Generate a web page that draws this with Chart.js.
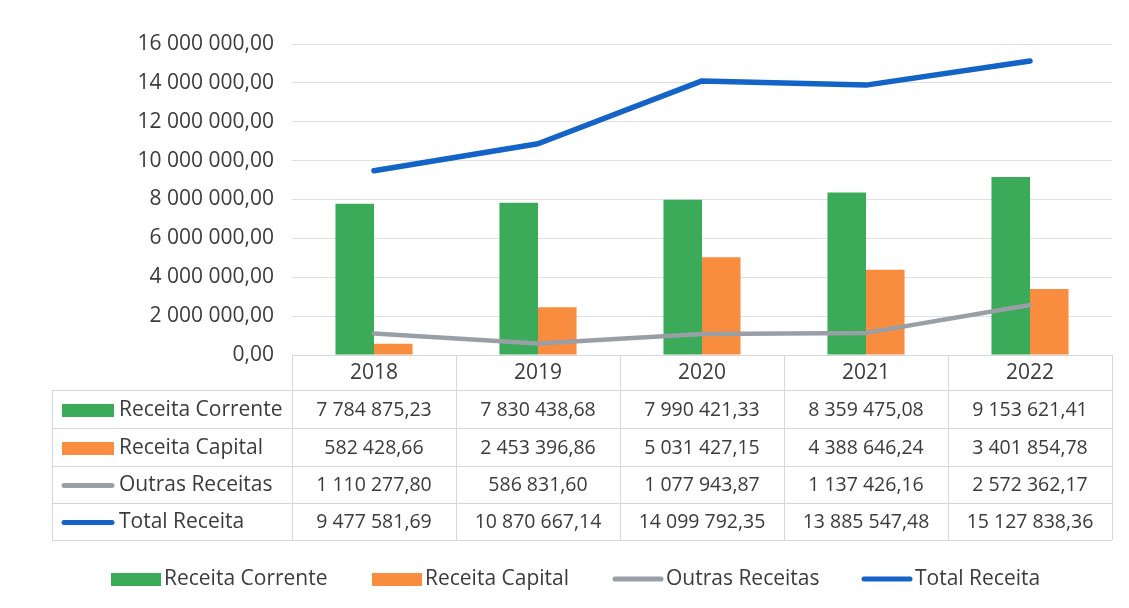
<!DOCTYPE html>
<html>
<head>
<meta charset="utf-8">
<script src="https://cdn.jsdelivr.net/npm/chart.js@4.4.1/dist/chart.umd.min.js"></script>
<style>
  html, body { margin: 0; padding: 0; background: #ffffff; }
  #caixa { width: 1129px; height: 608px; position: relative; }
</style>
</head>
<body>
<div id="caixa"><canvas id="grafico"></canvas></div>
<script>
// --- Dados ---
const anos = ['2018', '2019', '2020', '2021', '2022'];
const receitaCorrente = [7784875.23, 7830438.68, 7990421.33, 8359475.08, 9153621.41];
const receitaCapital = [582428.66, 2453396.86, 5031427.15, 4388646.24, 3401854.78];
const outrasReceitas = [1110277.80, 586831.60, 1077943.87, 1137426.16, 2572362.17];
const totalReceita = [9477581.69, 10870667.14, 14099792.35, 13885547.48, 15127838.36];
const nomesSeries = ['Receita Corrente', 'Receita Capital', 'Outras Receitas', 'Total Receita'];

const corVerde = '#3bab5a';
const corLaranja = '#f98d3f';
const corCinza = '#9a9fa5';
const corAzul = '#1463c6';
const corTexto = '#3b3b3b';
const corGrelha = '#dde1e6';
const fonte = "'Open Sans', Lato, sans-serif";

// formato 1 234 567,89
function formatar(n) {
    const partes = n.toFixed(2).split('.');
    const inteiro = partes[0].replace(/\B(?=(\d{3})+(?!\d))/g, ' ');
    return inteiro + ',' + partes[1];
}

// --- Tabela de dados + legenda (desenhadas por baixo do eixo X) ---
const pluginTabela = {
    id: 'tabelaDados',
    afterDraw(chart) {
        const ctx = chart.ctx;
        const area = chart.chartArea;
        const x = chart.scales.x;
        const larguraCat = x.width / anos.length;
        const topo = area.bottom;
        const linhasY = [topo + 35, topo + 73, topo + 111, topo + 148, topo + 185];
        const esquerda = 52;

        ctx.save();
        ctx.strokeStyle = '#d3d7dc';
        ctx.lineWidth = 1;
        ctx.beginPath();
        // linha do topo (cabeçalho)
        ctx.moveTo(x.left, topo + 0.5); ctx.lineTo(x.right, topo + 0.5);
        linhasY.forEach(y => {
            ctx.moveTo(esquerda, Math.round(y) + 0.5);
            ctx.lineTo(x.right, Math.round(y) + 0.5);
        });
        // verticais
        ctx.moveTo(esquerda + 0.5, linhasY[0]); ctx.lineTo(esquerda + 0.5, linhasY[4]);
        for (let i = 0; i <= anos.length; i++) {
            const xv = Math.round(x.left + i * larguraCat) + 0.5;
            ctx.moveTo(xv, topo); ctx.lineTo(xv, linhasY[4]);
        }
        ctx.stroke();

        ctx.fillStyle = corTexto;
        ctx.textBaseline = 'middle';

        chart.data.datasets.forEach((ds, r) => {
            const yc = (linhasY[r] + linhasY[r + 1]) / 2 + 1;
            desenharChave(ctx, ds, 62, yc, 52);
            ctx.fillStyle = corTexto;
            ctx.textAlign = 'left';
            ctx.font = '21px ' + fonte;
            ctx.fillText(ds.label, 119, yc);
            ctx.textAlign = 'center';
            ctx.font = '19.5px ' + fonte;
            ds.data.forEach((v, i) => {
                ctx.fillText(formatar(v), x.getPixelForValue(i), yc);
            });
        });

        // legenda inferior
        const yl = topo + 224;
        const posLegenda = [111, 372, 613, 862];
        ctx.font = '21px ' + fonte;
        chart.data.datasets.forEach((ds, r) => {
            desenharChave(ctx, ds, posLegenda[r], yl, 50);
            ctx.fillStyle = corTexto;
            ctx.textAlign = 'left';
            ctx.fillText(ds.label, posLegenda[r] + 53, yl);
        });
        ctx.restore();
    }
};

function desenharChave(ctx, ds, x0, yc, largura) {
    if (ds.type === 'line') {
        ctx.strokeStyle = ds.borderColor;
        ctx.lineWidth = 5;
        ctx.lineCap = 'round';
        ctx.beginPath();
        ctx.moveTo(x0 + 2, yc);
        ctx.lineTo(x0 + largura - 2, yc);
        ctx.stroke();
    } else {
        ctx.fillStyle = ds.backgroundColor;
        ctx.fillRect(x0, yc - 6, largura, 13);
    }
}

const ctxGrafico = document.getElementById('grafico').getContext('2d');
new Chart(ctxGrafico, {
    type: 'bar',
    data: {
        labels: anos,
        datasets: [
            { type: 'bar', label: nomesSeries[0], data: receitaCorrente, backgroundColor: corVerde, order: 2 },
            { type: 'bar', label: nomesSeries[1], data: receitaCapital, backgroundColor: corLaranja, order: 2 },
            { type: 'line', label: nomesSeries[2], data: outrasReceitas, borderColor: corCinza, borderWidth: 4.5,
              pointRadius: 0, tension: 0, borderCapStyle: 'round', borderJoinStyle: 'round', order: 1 },
            { type: 'line', label: nomesSeries[3], data: totalReceita, borderColor: corAzul, borderWidth: 5.5,
              pointRadius: 0, tension: 0, borderCapStyle: 'round', borderJoinStyle: 'round', order: 0 }
        ]
    },
    options: {
        responsive: true,
        maintainAspectRatio: false,
        animation: false,
        layout: { padding: { top: 44, right: 17, bottom: 0, left: 0 } },
        datasets: { bar: { categoryPercentage: 0.47, barPercentage: 1.0 } },
        plugins: {
            legend: { display: false },
            tooltip: { enabled: false }
        },
        scales: {
            x: {
                grid: { display: false, drawTicks: false },
                border: { display: false },
                ticks: { color: corTexto, font: { family: fonte, size: 21 }, padding: 5 },
                afterFit: (escala) => { escala.height = 253; }
            },
            y: {
                min: 0,
                max: 16000000,
                grid: { color: corGrelha, drawTicks: false },
                border: { display: false },
                ticks: {
                    stepSize: 2000000,
                    color: corTexto,
                    padding: 18,
                    font: { family: fonte, size: 21 },
                    callback: (v) => formatar(v)
                },
                afterFit: (escala) => { escala.width = 292; }
            }
        }
    },
    plugins: [pluginTabela]
});
</script>
</body>
</html>
